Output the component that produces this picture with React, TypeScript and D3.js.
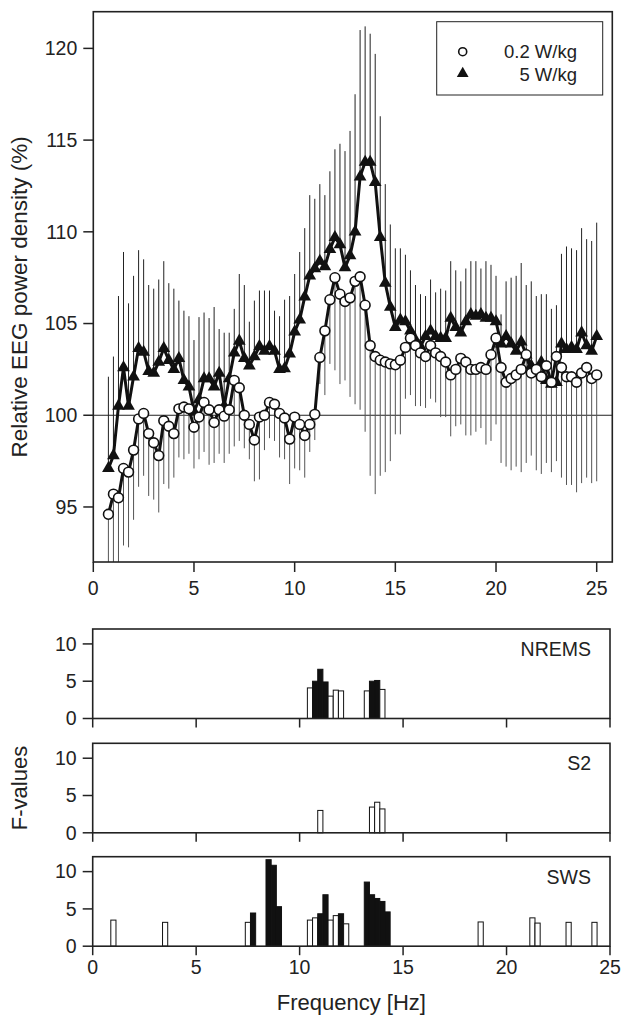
import React from "react";
import * as d3 from "d3";

// frequency bins (Hz): 0.75 .. 25 in 0.25 Hz steps
const FREQ_START = 0.75;
const FREQ_STEP = 0.25;

// 0.2 W/kg (open circles), relative EEG power density (%)
const lowSar = [
  94.6,
  95.7, 95.5, 97.1, 96.9,
  98.1, 99.8, 100.1, 99.0,
  98.5, 97.8, 99.7, 99.4,
  99.0, 100.35, 100.45, 100.35,
  99.35, 99.9, 100.7, 100.3,
  99.6, 100.3, 99.95, 100.3,
  101.9, 101.5, 100.0, 99.5,
  98.65, 99.9, 100.0, 100.7,
  100.6, 100.1, 99.85, 98.7,
  99.9, 99.5, 98.9, 99.5,
  100.05, 103.15, 104.6, 106.3,
  107.5, 106.6, 106.2, 106.4,
  107.3, 107.55, 106.0, 103.8,
  103.2, 103.0, 102.9, 102.8,
  102.75, 103.0, 103.7, 104.2,
  103.8, 103.4, 103.2, 103.8,
  103.4, 103.2, 102.9, 102.2,
  102.5, 103.1, 102.9, 102.5,
  102.5, 102.6, 102.5, 103.3,
  104.2, 102.6, 101.8, 102.0,
  102.2, 102.5, 103.3, 102.3,
  102.5, 102.1, 102.7, 101.8,
  103.2, 102.6, 102.1, 102.1,
  101.8, 102.3, 102.6, 102.0,
  102.2,
];
// lower end of the error bar for 0.2 W/kg
const lowSarBarEnd = [
  90,
  90, 90, 92.9, 92.8,
  94.3, 96.1, 96.7, 95.6,
  95.4, 94.7, 96.25, 96.0,
  96.6, 97.7, 97.6, 97.9,
  97.1, 97.6, 98.0, 97.3,
  97.4, 97.9, 97.4, 97.9,
  98.3, 98.6, 98.2, 97.6,
  96.4, 96.5, 98.1, 98.75,
  98.6, 97.7, 97.6, 96.25,
  97.1, 97.0, 96.6, 98.0,
  98.65, 101.7, 101.1, 102.8,
  102.45, 101.7, 101.9, 101.0,
  100.6, 100.3, 99.1, 96.7,
  95.7, 96.7, 96.9, 97.5,
  98.96, 98.96, 100.9, 101.1,
  100.5, 100.5, 100.4, 100.9,
  100.7, 99.9, 99.9, 98.85,
  99.4, 99.5, 98.9, 98.9,
  99.1, 99.3, 98.4, 98.6,
  99.5, 97.4, 97.2, 97.0,
  97.2, 96.9, 97.4, 97.8,
  97.0, 96.8, 97.4, 96.9,
  97.5, 96.6, 96.2, 96.2,
  95.8, 96.3, 96.6, 96.3,
  96.4,
];

// 5 W/kg (filled triangles)
const highSar = [
  97.1,
  97.8, 100.5, 102.6, 100.5,
  102.1, 103.65, 103.45, 102.4,
  102.3, 102.9, 103.65, 103.0,
  102.5, 103.1, 101.9, 101.55,
  100.2, 100.85, 102.0, 102.0,
  101.55, 102.3, 100.5, 102.0,
  103.4, 104.05, 103.1, 102.7,
  103.2, 103.75, 103.5, 103.75,
  103.5, 102.5, 102.55, 103.35,
  104.55, 105.2, 106.45, 107.6,
  108.0, 108.4, 108.1, 109.05,
  109.7, 109.3, 108.05, 108.7,
  110.0, 113.0, 113.8, 113.8,
  112.7, 109.7, 107.2, 105.9,
  104.8, 105.2, 105.1, 104.6,
  104.1, 103.75, 104.3, 104.6,
  104.3, 104.2, 104.2, 105.3,
  104.8, 104.5, 105.1, 105.5,
  105.4, 105.5, 105.3, 105.3,
  105.1, 103.9, 104.3, 103.9,
  103.5, 104.0, 103.3, 102.7,
  102.3, 102.9, 101.9, 101.7,
  101.8, 103.9, 103.6, 103.7,
  103.6, 104.5, 103.8, 103.5,
  104.3,
];
// upper end of the error bar for 5 W/kg
const highSarBarEnd = [
  102.1,
  103.2, 106.5, 108.9, 106.1,
  107.6, 109.0, 108.5, 107.1,
  106.9, 107.4, 108.4, 107.2,
  106.9, 106.25, 105.7, 105.4,
  104.1, 105.35, 105.6, 105.3,
  105.9, 104.7, 104.5, 104.5,
  105.8, 107.7, 107.1, 105.1,
  106.25, 106.8, 106.8, 106.8,
  105.7, 105.4, 106.3, 106.5,
  107.7, 108.9, 110.2, 112.0,
  111.8, 112.6, 112.0, 113.3,
  114.5, 114.8, 114.4, 115.5,
  117.5, 121.0, 121.2, 120.8,
  119.7, 116.3, 112.6, 110.4,
  109.1, 109.1, 108.75, 107.9,
  107.1, 106.6, 106.5, 107.4,
  106.7, 106.9, 106.8, 108.4,
  107.9, 107.3, 108.0, 108.4,
  108.4, 108.0, 108.4, 108.2,
  107.6, 105.5, 107.3, 107.5,
  107.6, 108.3, 107.1, 107.3,
  106.5, 106.6, 106.6, 105.8,
  106.0, 108.8, 109.2, 109.1,
  109.0, 110.2, 109.6, 109.5,
  110.5,
];

const topYTicks = [95, 100, 105, 110, 115, 120];
const xTicks = [0, 5, 10, 15, 20, 25];
const fTicks = [0, 5, 10];

// F-value panels: bin centre (Hz), F, filled (true) / open (false)
const nremsFreq = [10.5, 10.75, 11.0, 11.25, 11.5, 11.75, 12.0, 13.25, 13.5, 13.75, 14.0];
const nremsF = [4.1, 5.0, 6.6, 4.9, 3.0, 3.8, 3.7, 3.7, 5.0, 5.1, 3.9];
const nremsFilled = [false, true, true, true, false, false, false, false, true, true, false];

const s2Freq = [11.0, 13.5, 13.75, 14.0];
const s2F = [3.0, 3.45, 4.1, 3.2];
const s2Filled = [false, false, false, false];

const swsFreq = [
  1.0, 3.5, 7.5, 7.75, 8.5, 8.75, 9.0, 10.5, 10.75, 11.0, 11.25, 11.5, 11.75, 12.0, 12.25,
  13.25, 13.5, 13.75, 14.0, 14.25, 18.75, 21.25, 21.5, 23.0, 24.25,
];
const swsF = [
  3.5, 3.2, 3.2, 4.45, 11.6, 10.85, 5.3, 3.5, 3.8, 4.35, 6.9, 3.5, 4.1, 4.35, 3.0,
  8.6, 6.9, 6.4, 6.0, 4.6, 3.25, 3.8, 3.1, 3.2, 3.2,
];
const swsFilled = [
  false, false, false, true, true, true, true, false, false, true, true, false, false, true, false,
  true, true, true, true, true, false, false, false, false, false,
];

const panels = [
  { name: "NREMS", freq: nremsFreq, f: nremsF, filled: nremsFilled },
  { name: "S2", freq: s2Freq, f: s2F, filled: s2Filled },
  { name: "SWS", freq: swsFreq, f: swsF, filled: swsFilled },
];

const FONT = "'Liberation Sans', Arial, Helvetica, sans-serif";

const App = () => {
  const freqs = lowSar.map((_, i) => FREQ_START + i * FREQ_STEP);

  // top panel
  const tL = 93.3, tR = 612.3, tT = 11.7, tB = 562;
  const x = d3.scaleLinear().domain([0, 25]).range([tL, 596.7]);
  const y = d3.scaleLinear().domain([92, 122]).range([tB, tT]);

  const line = d3
    .line<number>()
    .x((_, i) => x(freqs[i]))
    .y((d) => y(d));

  const tri = d3.symbol().type(d3.symbolTriangle).size(70)();
  const triSmall = d3.symbol().type(d3.symbolTriangle).size(60)();

  // bottom panels
  const bL = 92.7, bR = 610;
  const bx = d3.scaleLinear().domain([0, 25]).range([bL, bR]);
  const panelTops = [629, 743.3, 856.7];
  const panelH = 89.5;
  const binW = bx(0.25) - bx(0);

  return (
    <svg
      width={624}
      height={1015}
      style={{ position: "absolute", left: 0, top: 0, background: "#fff" }}
      fontFamily={FONT}
    >
      <defs>
        <clipPath id="plotClip">
          <rect x={tL} y={tT} width={tR - tL} height={tB - tT} />
        </clipPath>
      </defs>
      <rect width={624} height={1015} fill="#fff" />

      {/* ---------- top panel ---------- */}
      <line x1={tL} x2={tR} y1={y(100)} y2={y(100)} stroke="#222" strokeWidth={1} />

      <g clipPath="url(#plotClip)">
        {freqs.map((f, i) => (
          <line
            key={"hb" + i}
            x1={x(f)}
            x2={x(f)}
            y1={y(highSar[i])}
            y2={y(highSarBarEnd[i])}
            stroke="#222"
            strokeWidth={1}
          />
        ))}
        {freqs.map((f, i) => (
          <line
            key={"lb" + i}
            x1={x(f)}
            x2={x(f)}
            y1={y(lowSar[i])}
            y2={y(lowSarBarEnd[i])}
            stroke="#555"
            strokeWidth={1}
          />
        ))}
        <path d={line(highSar) || ""} fill="none" stroke="#111" strokeWidth={3} strokeLinejoin="round" />
        <path d={line(lowSar) || ""} fill="none" stroke="#111" strokeWidth={3} strokeLinejoin="round" />
        {freqs.map((f, i) => (
          <path key={"tm" + i} d={tri || ""} transform={`translate(${x(f)},${y(highSar[i])})`} fill="#111" />
        ))}
        {freqs.map((f, i) => (
          <circle
            key={"cm" + i}
            cx={x(f)}
            cy={y(lowSar[i])}
            r={4.9}
            fill="#fff"
            stroke="#111"
            strokeWidth={1.6}
          />
        ))}
      </g>

      <rect x={tL} y={tT} width={tR - tL} height={tB - tT} fill="none" stroke="#222" strokeWidth={1.6} />

      {topYTicks.map((t) => (
        <g key={"ty" + t}>
          <line x1={tL - 10} x2={tL} y1={y(t)} y2={y(t)} stroke="#222" strokeWidth={1.5} />
          <text x={tL - 16} y={y(t)} dy="0.35em" textAnchor="end" fontSize={19.5} fill="#222">
            {t}
          </text>
        </g>
      ))}
      {xTicks.map((t) => (
        <g key={"tx" + t}>
          <line x1={x(t)} x2={x(t)} y1={tB} y2={tB + 10} stroke="#222" strokeWidth={1.5} />
          <text x={x(t)} y={tB + 26} dy="0.35em" textAnchor="middle" fontSize={19.5} fill="#222">
            {t}
          </text>
        </g>
      ))}
      <text
        transform={`translate(27,${(tT + tB) / 2 + 10}) rotate(-90)`}
        textAnchor="middle"
        fontSize={22.5}
        fill="#222"
      >
        Relative EEG power density (%)
      </text>

      {/* legend */}
      <rect x={436.7} y={21.7} width={166} height={73.3} fill="#fff" stroke="#222" strokeWidth={1} />
      <circle cx={462.7} cy={51.7} r={4} fill="#fff" stroke="#111" strokeWidth={1.6} />
      <path d={triSmall || ""} transform="translate(462.7,73.5)" fill="#111" />
      <text x={577} y={51.7} dy="0.35em" textAnchor="end" fontSize={18.5} fill="#222">
        0.2 W/kg
      </text>
      <text x={577} y={74.5} dy="0.35em" textAnchor="end" fontSize={18.5} fill="#222">
        5 W/kg
      </text>

      {/* ---------- F-value panels ---------- */}
      {panels.map((p, pi) => {
        const top = panelTops[pi];
        const by = d3.scaleLinear().domain([0, 12]).range([top + panelH, top]);
        return (
          <g key={p.name}>
            {p.freq.map((f, i) => (
              <rect
                key={i}
                x={bx(f) - binW / 2}
                y={by(p.f[i])}
                width={binW}
                height={by(0) - by(p.f[i])}
                fill={p.filled[i] ? "#111" : "#fff"}
                stroke="#111"
                strokeWidth={1}
              />
            ))}
            <rect x={bL} y={top} width={bR - bL} height={panelH} fill="none" stroke="#222" strokeWidth={1.6} />
            {fTicks.map((t) => (
              <g key={"fy" + t}>
                <line x1={bL - 10} x2={bL} y1={by(t)} y2={by(t)} stroke="#222" strokeWidth={1.5} />
                <text x={bL - 16} y={by(t)} dy="0.35em" textAnchor="end" fontSize={19.5} fill="#222">
                  {t}
                </text>
              </g>
            ))}
            {xTicks.map((t) => (
              <line
                key={"fx" + t}
                x1={bx(t)}
                x2={bx(t)}
                y1={top + panelH}
                y2={top + panelH + 9}
                stroke="#222"
                strokeWidth={1.5}
              />
            ))}
            <text x={591} y={top + 20} dy="0.35em" textAnchor="end" fontSize={19.5} fill="#222">
              {p.name}
            </text>
          </g>
        );
      })}
      {xTicks.map((t) => (
        <text
          key={"bxl" + t}
          x={bx(t)}
          y={967}
          dy="0.35em"
          textAnchor="middle"
          fontSize={19.5}
          fill="#222"
        >
          {t}
        </text>
      ))}
      <text x={(bL + bR) / 2} y={1002} dy="0.35em" textAnchor="middle" fontSize={22} fill="#222">
        Frequency [Hz]
      </text>
      <text
        transform={`translate(27,${panelTops[1] + panelH / 2}) rotate(-90)`}
        textAnchor="middle"
        fontSize={22}
        fill="#222"
      >
        F-values
      </text>
    </svg>
  );
};

export default App;
